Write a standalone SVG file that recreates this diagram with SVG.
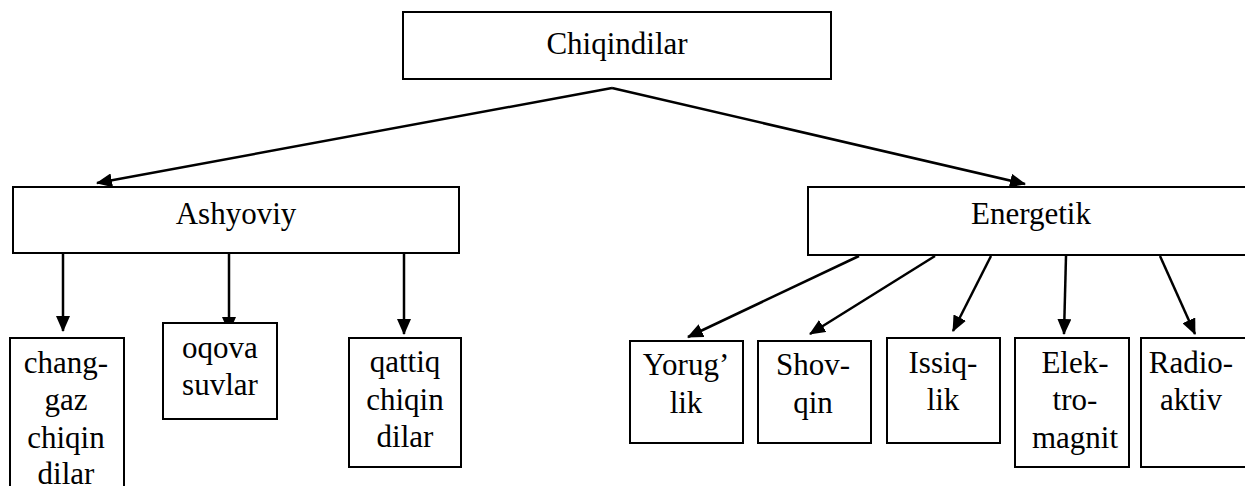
<svg xmlns="http://www.w3.org/2000/svg" width="1245" height="486" viewBox="0 0 1245 486">
<defs>
<marker id="ah" markerUnits="userSpaceOnUse" markerWidth="16" markerHeight="14" refX="15" refY="7" orient="auto">
<path d="M0,0 L16,7 L0,14 z" fill="#000"/>
</marker>
</defs>
<rect width="1245" height="486" fill="#fff"/>
<g id="connectors" stroke="#000" stroke-width="2.5" fill="none" marker-end="url(#ah)">
<line x1="612" y1="88" x2="97" y2="183"/>
<line x1="612" y1="88" x2="1025" y2="184"/>
<line x1="63" y1="254" x2="63" y2="331"/>
<line x1="229" y1="254" x2="229" y2="332"/>
<line x1="404" y1="254" x2="404" y2="334"/>
<line x1="859" y1="256" x2="688" y2="337"/>
<line x1="935" y1="256" x2="810" y2="334"/>
<line x1="991" y1="256" x2="953" y2="331"/>
<line x1="1066" y1="256" x2="1064" y2="334"/>
<line x1="1160" y1="256" x2="1195" y2="334"/>
</g>
<g id="n-chiqindilar"><rect x="403" y="12" width="428" height="67" fill="#fff" stroke="#000" stroke-width="2"/><text x="617" y="54" font-family="Liberation Serif" font-size="31" text-anchor="middle">Chiqindilar</text></g>
<g id="n-ashyoviy"><rect x="13" y="187" width="446" height="66" fill="#fff" stroke="#000" stroke-width="2"/><text x="236" y="224" font-family="Liberation Serif" font-size="31" text-anchor="middle">Ashyoviy</text></g>
<g id="n-energetik"><rect x="808" y="187" width="446" height="68" fill="#fff" stroke="#000" stroke-width="2"/><text x="1031" y="224" font-family="Liberation Serif" font-size="31" text-anchor="middle">Energetik</text></g>
<g id="n-changgaz"><rect x="10" y="338" width="114" height="160" fill="#fff" stroke="#000" stroke-width="2"/><text x="66" y="373" font-family="Liberation Serif" font-size="31" text-anchor="middle">chang-</text><text x="66" y="410" font-family="Liberation Serif" font-size="31" text-anchor="middle">gaz</text><text x="66" y="448" font-family="Liberation Serif" font-size="31" text-anchor="middle">chiqin</text><text x="66" y="484" font-family="Liberation Serif" font-size="31" text-anchor="middle">dilar</text></g>
<g id="n-oqova"><rect x="163" y="323" width="114" height="96" fill="#fff" stroke="#000" stroke-width="2"/><text x="220" y="358" font-family="Liberation Serif" font-size="31" text-anchor="middle">oqova</text><text x="220" y="395" font-family="Liberation Serif" font-size="31" text-anchor="middle">suvlar</text></g>
<g id="n-qattiq"><rect x="349" y="338" width="112" height="129" fill="#fff" stroke="#000" stroke-width="2"/><text x="405" y="372" font-family="Liberation Serif" font-size="31" text-anchor="middle">qattiq</text><text x="405" y="410" font-family="Liberation Serif" font-size="31" text-anchor="middle">chiqin</text><text x="405" y="447" font-family="Liberation Serif" font-size="31" text-anchor="middle">dilar</text></g>
<g id="n-yoruglik"><rect x="630" y="341" width="113" height="102" fill="#fff" stroke="#000" stroke-width="2"/><text x="686" y="375" font-family="Liberation Serif" font-size="31" text-anchor="middle">Yorug&#8217;</text><text x="686" y="413" font-family="Liberation Serif" font-size="31" text-anchor="middle">lik</text></g>
<g id="n-shovqin"><rect x="758" y="341" width="113" height="102" fill="#fff" stroke="#000" stroke-width="2"/><text x="813" y="375" font-family="Liberation Serif" font-size="31" text-anchor="middle">Shov-</text><text x="813" y="413" font-family="Liberation Serif" font-size="31" text-anchor="middle">qin</text></g>
<g id="n-issiqlik"><rect x="887" y="338" width="113" height="105" fill="#fff" stroke="#000" stroke-width="2"/><text x="943" y="373" font-family="Liberation Serif" font-size="31" text-anchor="middle">Issiq-</text><text x="943" y="410" font-family="Liberation Serif" font-size="31" text-anchor="middle">lik</text></g>
<g id="n-elektromagnit"><rect x="1015" y="338" width="114" height="129" fill="#fff" stroke="#000" stroke-width="2"/><text x="1075" y="373" font-family="Liberation Serif" font-size="31" text-anchor="middle">Elek-</text><text x="1075" y="410" font-family="Liberation Serif" font-size="31" text-anchor="middle">tro-</text><text x="1075" y="448" font-family="Liberation Serif" font-size="31" text-anchor="middle">magnit</text></g>
<g id="n-radioaktiv"><rect x="1141" y="338" width="114" height="129" fill="#fff" stroke="#000" stroke-width="2"/><text x="1191" y="373" font-family="Liberation Serif" font-size="31" text-anchor="middle">Radio-</text><text x="1191" y="410" font-family="Liberation Serif" font-size="31" text-anchor="middle">aktiv</text></g>
</svg>
